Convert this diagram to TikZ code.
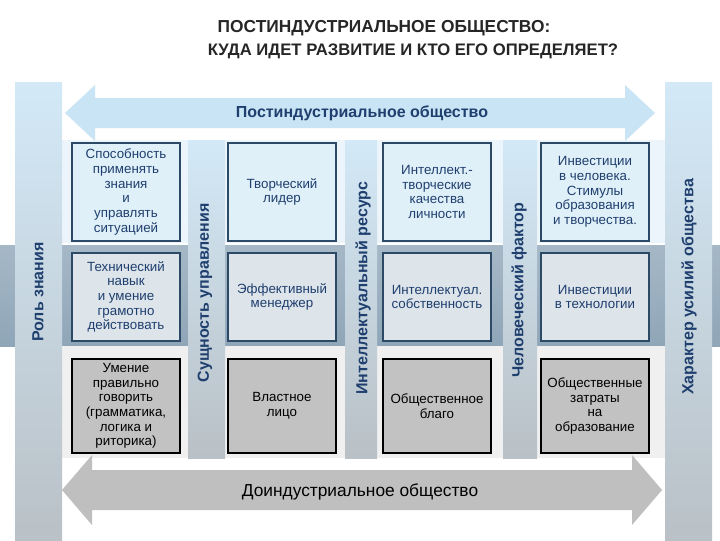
\documentclass[tikz,border=0pt]{standalone}
\usepackage{fontspec}
\setmainfont{Liberation Sans}
\definecolor{tblue}{HTML}{1F3F6E}
\definecolor{bordb}{HTML}{2C4A66}
\definecolor{lblue}{HTML}{D3E9F7}
\definecolor{arrb}{HTML}{C9E4F5}
\definecolor{steel}{HTML}{8FA6B8}
\definecolor{barbot}{HTML}{B9C0C6}
\tikzset{
 bar/.style={top color=#1, bottom color=barbot, draw=none},
 topbox/.style={draw=bordb, line width=1.3pt, fill=lblue!70, minimum width=81pt, minimum height=73pt, align=center, text=tblue, font=\fontsize{10}{11}\selectfont, inner sep=1pt},
 midbox/.style={draw=bordb, line width=1.3pt, fill=steel!30, minimum width=81pt, minimum height=66pt, align=center, text=tblue, font=\fontsize{10}{11}\selectfont, inner sep=1pt},
 botbox/.style={draw=black, line width=1.3pt, fill=gray!48, minimum width=81pt, minimum height=71pt, align=center, text=black, font=\fontsize{10}{11}\selectfont, inner sep=1pt},
 vlab/.style={rotate=90, text=tblue, font=\bfseries\fontsize{12}{13}\selectfont},
}
\begin{document}
\begin{tikzpicture}[x=0.75pt,y=-0.75pt]
\useasboundingbox (0,0) rectangle (720,540);
\fill[white] (0,0) rectangle (720,540);
% title
\node[font=\bfseries\fontsize{13}{14}\selectfont, text=black!85] (t1) at (384,28) {ПОСТИНДУСТРИАЛЬНОЕ ОБЩЕСТВО:};
\node[font=\bfseries\fontsize{12.5}{13}\selectfont, text=black!85] (t2) at (413,51) {КУДА ИДЕТ РАЗВИТИЕ И КТО ЕГО ОПРЕДЕЛЯЕТ?};
% bands
\shade[top color=steel!80, bottom color=steel] (0,245) rectangle (720,346);
\fill[gray!12] (62,346) rectangle (665,458);
\fill[lblue!45] (62,140) rectangle (665,243);
% vertical bars
\shade[bar=lblue] (15,82) rectangle (62,548);
\shade[bar=lblue] (188,140) rectangle (225,458);
\shade[bar=lblue] (345,140) rectangle (377,458);
\shade[bar=lblue] (503,140) rectangle (537,458);
\shade[bar=lblue] (665,82) rectangle (712,548);
% arrows
\fill[arrb] (65,113) -- (95,85) -- (95,98) -- (625,98) -- (625,85) -- (655,113) -- (625,141) -- (625,128) -- (95,128) -- (95,141) -- cycle;
\node[font=\bfseries\fontsize{12}{13}\selectfont, text=tblue] (tat) at (362,113) {Постиндустриальное общество};
\fill[gray!50] (62,490) -- (92,455) -- (92,470) -- (632,470) -- (632,455) -- (662,490) -- (632,525) -- (632,510) -- (92,510) -- (92,525) -- cycle;
\node[font=\fontsize{13}{14}\selectfont] (bat) at (360,492) {Доиндустриальное общество};
% labels
\node[vlab] (l1) at (38,292) {Роль знания};
\node[vlab] (l2) at (205,293) {Сущность управления};
\node[vlab] (l3) at (363,288) {Интеллектуальный ресурс};
\node[vlab] (l4) at (519,290) {Человеческий фактор};
\node[vlab] (l5) at (689,287) {Характер усилий общества};
% boxes
\node[topbox] (a1) at (126,192) {Способность\\применять\\знания\\и\\управлять\\ситуацией};
\node[topbox] (a2) at (282,192) {Творческий\\лидер};
\node[topbox] (a3) at (437,192) {Интеллект.-\\творческие\\качества\\личности};
\node[topbox] (a4) at (595,192) {Инвестиции\\в человека.\\Стимулы\\образования\\и творчества.};
\node[midbox] (b1) at (126,297) {Технический\\навык\\и умение\\грамотно\\действовать};
\node[midbox] (b2) at (282,297) {Эффективный\\менеджер};
\node[midbox] (b3) at (437,297) {Интеллектуал.\\собственность};
\node[midbox] (b4) at (595,297) {Инвестиции\\в технологии};
\node[botbox] (c1) at (126,406) {Умение\\правильно\\говорить\\(грамматика,\\логика и\\риторика)};
\node[botbox] (c2) at (282,406) {Властное\\лицо};
\node[botbox] (c3) at (437,406) {Общественное\\благо};
\node[botbox] (c4) at (595,406) {Общественные\\затраты\\на\\образование};
\end{tikzpicture}
\end{document}
